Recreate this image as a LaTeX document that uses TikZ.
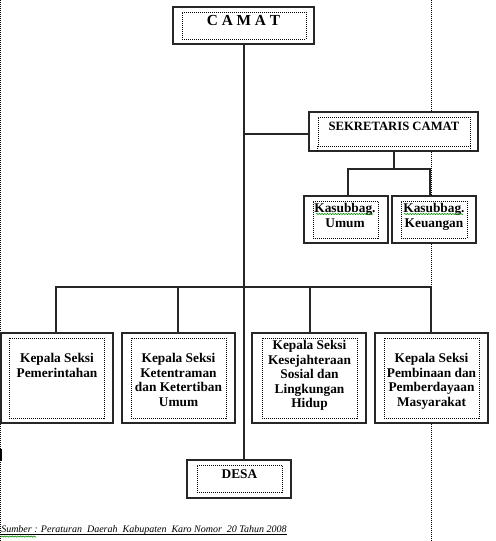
\documentclass[tikz,border=0pt]{standalone}
\usepackage{fontspec}
\setmainfont{Liberation Serif}
\usetikzlibrary{fit,decorations.pathmorphing}
\begin{document}
\begin{tikzpicture}[x=0.75pt,y=-0.75pt,
  ob/.style={draw=black!85, line width=1.5pt, fill=white, inner sep=0pt},
  ib/.style={draw=black, line width=0.7pt, dash pattern=on 0.75pt off 0.75pt, inner sep=0pt},
  pg/.style={line width=0.7pt, dash pattern=on 0.75pt off 0.75pt},
  cn/.style={draw=black!85, line width=1.5pt},
  tx/.style={font=\fontsize{10}{10.9}\selectfont\bfseries, align=center, inner sep=0pt, anchor=north},
  wavy/.style={draw=green!55!black, line width=0.45pt, decorate, decoration={snake, amplitude=0.45pt, segment length=2pt}}]
\useasboundingbox (0,0) rectangle (495,541);
% page margin guides
\coordinate (gl1) at (0.5,0);
\coordinate (gl2) at (0.5,541);
\coordinate (gr1) at (431,0);
\coordinate (gr2) at (431,541);
\draw[pg] (gl1) -- (gl2);
\draw[pg] (gr1) -- (gr2);
\coordinate (br1) at (1,449);
\coordinate (br2) at (1,461);
\draw[line width=1.2pt] (br1) -- (br2);

% boxes
\node[ob, fit={(173,7) (314,44)}] (camat) {};
\node[ib, fit={(182,12) (306,39)}] (camati) {};
\node[font=\fontsize{11.5}{12}\selectfont\bfseries, inner sep=0pt] (camatt) at (243.5,21) {C\ A\ M\ A\ T};

\node[ob, fit={(309,112) (478,151)}] (sek) {};
\node[ib, fit={(318,117) (470,146)}] (seki) {};
\draw[pg] (seki.south west) -- ++(0,6);
\draw[pg] (seki.south east) -- ++(0,6);
\node[font=\fontsize{9.5}{10}\selectfont\bfseries, inner sep=0pt] (sekt) at (394,126) {SEKRETARIS CAMAT};

\node[ob, fit={(304,196) (388,243)}] (umum) {};
\node[ib, fit={(313,201) (378,238)}] (umumi) {};
\node[tx] (umumt) at (345,203) {Kasubbag.\\Umum};

\node[ob, fit={(392,196) (476,243)}] (keu) {};
\node[ib, fit={(401,201) (467,238)}] (keui) {};
\node[tx] (keut) at (434,203) {Kasubbag.\\Keuangan};

\node[ob, fit={(1,333) (113,423)}] (k1) {};
\node[ib, fit={(9,338) (104,418)}] (k1i) {};
\node[tx] (k1t) at (57,353) {Kepala Seksi\\Pemerintahan};

\node[ob, fit={(122,333) (235,423)}] (k2) {};
\node[ib, fit={(131,338) (226,418)}] (k2i) {};
\node[tx] (k2t) at (178.5,353) {Kepala Seksi\\Ketentraman\\dan Ketertiban\\Umum};

\node[ob, fit={(252,333) (366,423)}] (k3) {};
\node[ib, fit={(262,338) (357,418)}] (k3i) {};
\node[tx] (k3t) at (309.5,340) {Kepala Seksi\\Kesejahteraan\\Sosial dan\\Lingkungan\\Hidup};

\node[ob, fit={(375,333) (488,423)}] (k4) {};
\node[ib, fit={(384,338) (479,418)}] (k4i) {};
\node[tx] (k4t) at (431.5,353) {Kepala Seksi\\Pembinaan dan\\Pemberdayaan\\Masyarakat};

\node[ob, fit={(187,460) (291,498)}] (desa) {};
\node[ib, fit={(197,465) (282,492)}] (desai) {};
\node[font=\fontsize{10}{11}\selectfont\bfseries, inner sep=0pt] (desat) at (239.5,474) {DESA};

% connector anchor points (pixel aligned)
\coordinate (main) at (244,44);
\coordinate (bus) at (244,287);
\coordinate (sbus) at (394,169);
\path (sek.west) ++(0,2.5) coordinate (sj);
\path (sek.south) ++(0.5,0) coordinate (ss);
\path (umum.north) ++(2,0) coordinate (un);
\path (keu.north) ++(-4,0) coordinate (kn);
\path (k1.north) ++(-1,0) coordinate (n1);
\path (k2.north) ++(-0.5,0) coordinate (n2);
\path (k3.north) ++(1,0) coordinate (n3);
\path (k4.north) ++(-0.5,0) coordinate (n4);

% connectors
\draw[cn] (main) -- (main |- desa.north);
\draw[cn] (main |- sj) -- (sj);
\draw[cn] (ss) -- (sbus);
\draw[cn] (un) |- (sbus) -| (kn);
\draw[cn] (n1) |- (bus) -| (n4);
\draw[cn] (n2) -- (n2 |- bus);
\draw[cn] (n3) -- (n3 |- bus);

% source
\node[anchor=base west, inner sep=0pt, font=\fontsize{7.5}{9}\selectfont\itshape] (src) at (1,532) {Sumber : Peraturan\ \ Daerah\ \ Kabupaten\ \ Karo Nomor\ \ 20 Tahun 2008};
\draw[line width=0.6pt] ([yshift=-1.6pt]src.base west) -- ([yshift=-1.6pt]src.base east);

% spell-check marks
\coordinate (w1a) at (1,536.5);
\coordinate (w1b) at (36,536.5);
\draw[wavy] (w1a) -- (w1b);
\coordinate (w2a) at (316,214);
\coordinate (w2b) at (373,214);
\draw[wavy] (w2a) -- (w2b);
\coordinate (w3a) at (404,214);
\coordinate (w3b) at (463,214);
\draw[wavy] (w3a) -- (w3b);
\end{tikzpicture}
\end{document}
